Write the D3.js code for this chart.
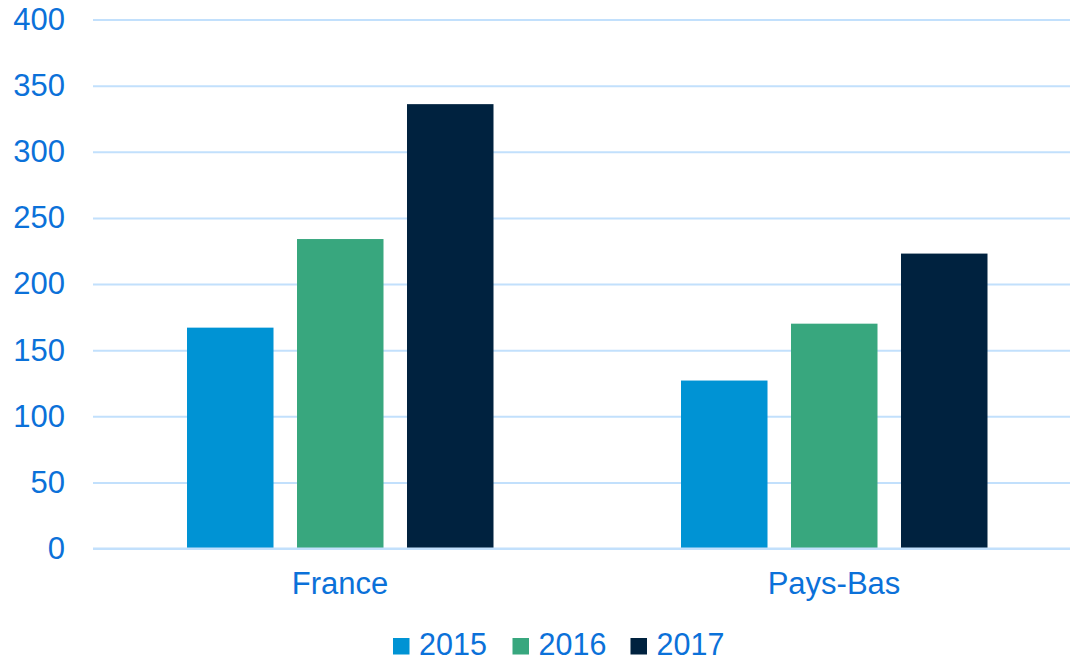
<!DOCTYPE html>
<html>
<head>
<meta charset="utf-8">
<script src="https://cdn.jsdelivr.net/npm/d3@7"></script>
<style>
  html, body { margin: 0; padding: 0; background: #ffffff; }
  svg { display: block; font-family: "Liberation Sans", Arial, sans-serif; }
</style>
</head>
<body>
<svg id="chart" width="1070" height="661"></svg>
<script>
const categories = ["France", "Pays-Bas"];
const seriesNames = ["2015", "2016", "2017"];
const values2015 = [167, 127];
const values2016 = [234, 170];
const values2017 = [336, 223];
const yTicks = [0, 50, 100, 150, 200, 250, 300, 350, 400];
const colors = ["#0093D4", "#38A77E", "#00223F"];

const seriesValues = [values2015, values2016, values2017];
const data = categories.map((c, i) => ({
  category: c,
  values: seriesNames.map((s, j) => ({ series: s, value: seriesValues[j][i] }))
}));

const textColor = "#0B71D9";
const gridColor = "#C2E0FC";
const svg = d3.select("#chart");

const plotLeft = 93, plotRight = 1081, plotTop = 19.5, plotBottom = 548.5;

const x0 = d3.scaleBand().domain(categories).range([plotLeft, plotRight]).paddingInner(0).paddingOuter(0);
const x1 = d3.scaleBand().domain(seriesNames).range([94, 400.5]).paddingInner(0.2136).paddingOuter(0);
const y = d3.scaleLinear().domain([0, 400]).range([plotBottom, plotTop]);
const color = d3.scaleOrdinal().domain(seriesNames).range(colors);

// gridlines
const yAxis = d3.axisLeft(y).tickValues(yTicks).tickSize(-(1070 - plotLeft)).tickPadding(28);
const gy = svg.append("g").attr("transform", `translate(${plotLeft},0)`).call(yAxis);
gy.select(".domain").remove();
gy.selectAll(".tick line").attr("stroke", gridColor).attr("stroke-width", 2);
gy.selectAll(".tick text")
  .attr("fill", textColor)
  .attr("font-size", 31)
  .attr("font-family", "'Liberation Sans', Arial, sans-serif");

// bars
const groups = svg.append("g").selectAll("g")
  .data(data).join("g")
  .attr("transform", d => `translate(${x0(d.category)},0)`);
groups.selectAll("rect")
  .data(d => d.values).join("rect")
  .attr("x", d => x1(d.series))
  .attr("width", x1.bandwidth())
  .attr("y", d => y(d.value))
  .attr("height", d => y(0) - y(d.value))
  .attr("fill", d => color(d.series));

// redraw baseline on top
svg.append("line")
  .attr("x1", plotLeft).attr("x2", 1070)
  .attr("y1", y(0)).attr("y2", y(0))
  .attr("stroke", gridColor).attr("stroke-width", 2);

// x axis labels
const xAxis = d3.axisBottom(x0).tickSize(0).tickPadding(23);
const gx = svg.append("g").attr("transform", `translate(0,${plotBottom})`).call(xAxis);
gx.select(".domain").remove();
gx.selectAll(".tick text")
  .attr("fill", textColor)
  .attr("font-size", 31)
  .attr("font-family", "'Liberation Sans', Arial, sans-serif");

// legend
const legendX = [393, 512.5, 630.5];
const legend = svg.append("g").selectAll("g")
  .data(seriesNames).join("g")
  .attr("transform", (d, i) => `translate(${legendX[i]},638)`);
legend.append("rect")
  .attr("width", 16.5).attr("height", 16.5)
  .attr("fill", d => color(d));
legend.append("text")
  .attr("x", 26).attr("y", 16.8)
  .attr("fill", textColor)
  .attr("font-size", 30.5)
  .text(d => d);
</script>
</body>
</html>
